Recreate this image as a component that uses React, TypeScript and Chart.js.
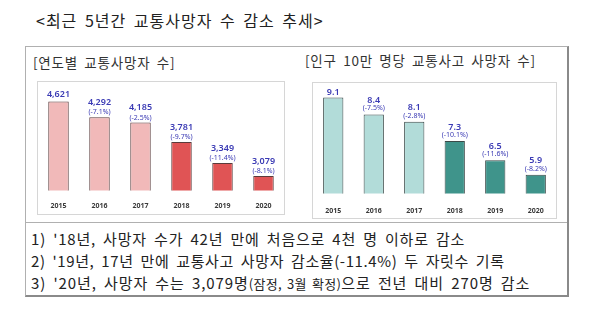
import React, { useEffect, useRef } from 'react';
import { Chart, registerables } from 'chart.js';

Chart.register(...registerables);

const years = ['2015', '2016', '2017', '2018', '2019', '2020'];
const deaths = [4621, 4292, 4185, 3781, 3349, 3079];
const deathsChange = ['', '-7.1%', '-2.5%', '-9.7%', '-11.4%', '-8.1%'];
const perCapita = [9.1, 8.4, 8.1, 7.3, 6.5, 5.9];
const perCapitaChange = ['', '-7.5%', '-2.8%', '-10.1%', '-11.6%', '-8.2%'];
const notes = [
  "'18년, 사망자 수가 42년 만에 처음으로 4천 명 이하로 감소",
  "'19년, 17년 만에 교통사고 사망자 감소율(-11.4%) 두 자릿수 기록",
];

type PanelProps = {
  values: number[];
  changes: string[];
  colors: string[];
  borderColor: string;
  min: number;
  max: number;
  decimals: number;
  tickPad: number;
  bottomPad: number;
  pctGap: number;
  lineGap: number;
  valueGap: number;
  left: number;
  top: number;
  width: number;
  height: number;
};

function BarPanel(p: PanelProps) {
  const ref = useRef<HTMLCanvasElement | null>(null);
  useEffect(() => {
    if (!ref.current) return;
    const fmt = (v: number) =>
      p.decimals > 0 ? v.toFixed(p.decimals) : v.toLocaleString('en-US');
    const labelPlugin = {
      id: 'barLabels',
      afterDatasetsDraw(chart: any) {
        const { ctx } = chart;
        const meta = chart.getDatasetMeta(0);
        meta.data.forEach((bar: any, i: number) => {
          const { x, y } = bar.getProps(['x', 'y'], true);
          const change = p.changes[i];
          ctx.save();
          ctx.fillStyle = '#3a3ab4';
          ctx.textAlign = 'center';
          ctx.textBaseline = 'middle';
          let vy = y - p.valueGap;
          if (change) {
            ctx.font = '7px "Noto Sans", sans-serif';
            ctx.fillText('(' + change + ')', x, y - p.pctGap);
            vy = y - p.pctGap - p.lineGap;
          }
          ctx.font = '600 9px "Noto Sans", sans-serif';
          ctx.fillText(fmt(p.values[i]), x, vy);
          ctx.restore();
        });
      },
    };
    const chart = new Chart(ref.current, {
      type: 'bar',
      data: {
        labels: years,
        datasets: [
          {
            data: p.values,
            backgroundColor: p.colors,
            borderColor: p.borderColor,
            borderWidth: 1,
            borderSkipped: false,
            barPercentage: 0.5,
            categoryPercentage: 1,
          },
        ],
      },
      options: {
        responsive: false,
        animation: false,
        layout: { padding: { top: 0, left: 0, right: 0, bottom: p.bottomPad } },
        plugins: { legend: { display: false }, tooltip: { enabled: false } },
        scales: {
          x: {
            grid: { display: false },
            border: { display: false },
            ticks: {
              color: '#3a3a3a',
              padding: p.tickPad,
              font: { size: 7, weight: 'bold', family: '"Noto Sans", sans-serif' },
            },
          },
          y: { display: false, min: p.min, max: p.max },
        },
      },
      plugins: [labelPlugin],
    });
    return () => chart.destroy();
  }, []);
  return (
    <canvas
      ref={ref}
      width={p.width}
      height={p.height}
      style={{ position: 'absolute', left: p.left, top: p.top, width: p.width, height: p.height }}
    />
  );
}

const font = '"Noto Sans CJK KR", "Noto Sans", sans-serif';

export default function App() {
  const pink = '#f1b9b9';
  const red = '#e05455';
  const mint = '#b2dcd9';
  const teal = '#3f948b';
  const panelTitle: React.CSSProperties = {
    position: 'absolute',
    fontSize: 13.5,
    lineHeight: '20px',
    color: '#333',
    whiteSpace: 'nowrap',
    letterSpacing: 0.8,
    wordSpacing: 2.5,
  };
  return (
    <div
      style={{
        position: 'absolute',
        left: 0,
        top: 0,
        width: 600,
        height: 328,
        background: '#fff',
        fontFamily: font,
        color: '#222',
        overflow: 'hidden',
      }}
    >
      <div
        style={{
          position: 'absolute',
          left: 36,
          top: 9,
          fontSize: 16,
          lineHeight: '22px',
          whiteSpace: 'nowrap',
          letterSpacing: 1,
          wordSpacing: 3,
        }}
      >
        &lt;최근 5년간 교통사망자 수 감소 추세&gt;
      </div>
      {/* outer frame */}
      <div
        style={{
          position: 'absolute',
          left: 25,
          top: 46,
          width: 544,
          height: 251,
          boxSizing: 'border-box',
          borderTop: '1px solid #b0b0b0',
          borderLeft: '1px solid #b0b0b0',
          borderRight: '2px solid #8a8a8a',
          borderBottom: '2px solid #8a8a8a',
        }}
      />
      <div style={{ position: 'absolute', left: 26, top: 222, width: 541, height: 1, background: '#b0b0b0' }} />
      {/* panel titles */}
      <div style={{ ...panelTitle, left: 33, top: 52 }}>[연도별 교통사망자 수]</div>
      <div style={{ ...panelTitle, left: 305, top: 50 }}>[인구 10만 명당 교통사고 사망자 수]</div>
      {/* inner boxes */}
      <div style={{ position: 'absolute', left: 37, top: 81, width: 248, height: 134, boxSizing: 'border-box', border: '1px solid #d6d6d6' }} />
      <div style={{ position: 'absolute', left: 312, top: 82, width: 245, height: 137, boxSizing: 'border-box', border: '1px solid #d6d6d6' }} />
      <BarPanel
        values={deaths}
        changes={deathsChange}
        colors={[pink, pink, pink, red, red, red]}
        borderColor="#5a3b3b"
        min={2780}
        max={4980}
        decimals={0}
        tickPad={3}
        bottomPad={3}
        pctGap={5}
        lineGap={10}
        valueGap={7}
        left={38}
        top={84}
        width={246}
        height={132}
      />
      <BarPanel
        values={perCapita}
        changes={perCapitaChange}
        colors={[mint, mint, mint, teal, teal, teal]}
        borderColor="#3a4a48"
        min={5.12}
        max={9.58}
        decimals={1}
        tickPad={5}
        bottomPad={2}
        pctGap={6}
        lineGap={8}
        valueGap={5}
        left={313}
        top={86}
        width={243}
        height={136}
      />
      {/* notes */}
      <div
        style={{
          position: 'absolute',
          left: 31,
          top: 228,
          fontSize: 15,
          lineHeight: '22px',
          whiteSpace: 'nowrap',
          letterSpacing: 0.6,
          wordSpacing: 3,
        }}
      >
        <div style={{ letterSpacing: 0.8 }}>1) {notes[0]}</div>
        <div>2) {notes[1]}</div>
        <div style={{ letterSpacing: 0.9 }}>
          3) '20년, 사망자 수는 3,079명
          <span style={{ fontSize: 13, letterSpacing: 0.3, wordSpacing: 2 }}>(잠정, 3월 확정)</span>
          으로 전년 대비 270명 감소
        </div>
      </div>
    </div>
  );
}
